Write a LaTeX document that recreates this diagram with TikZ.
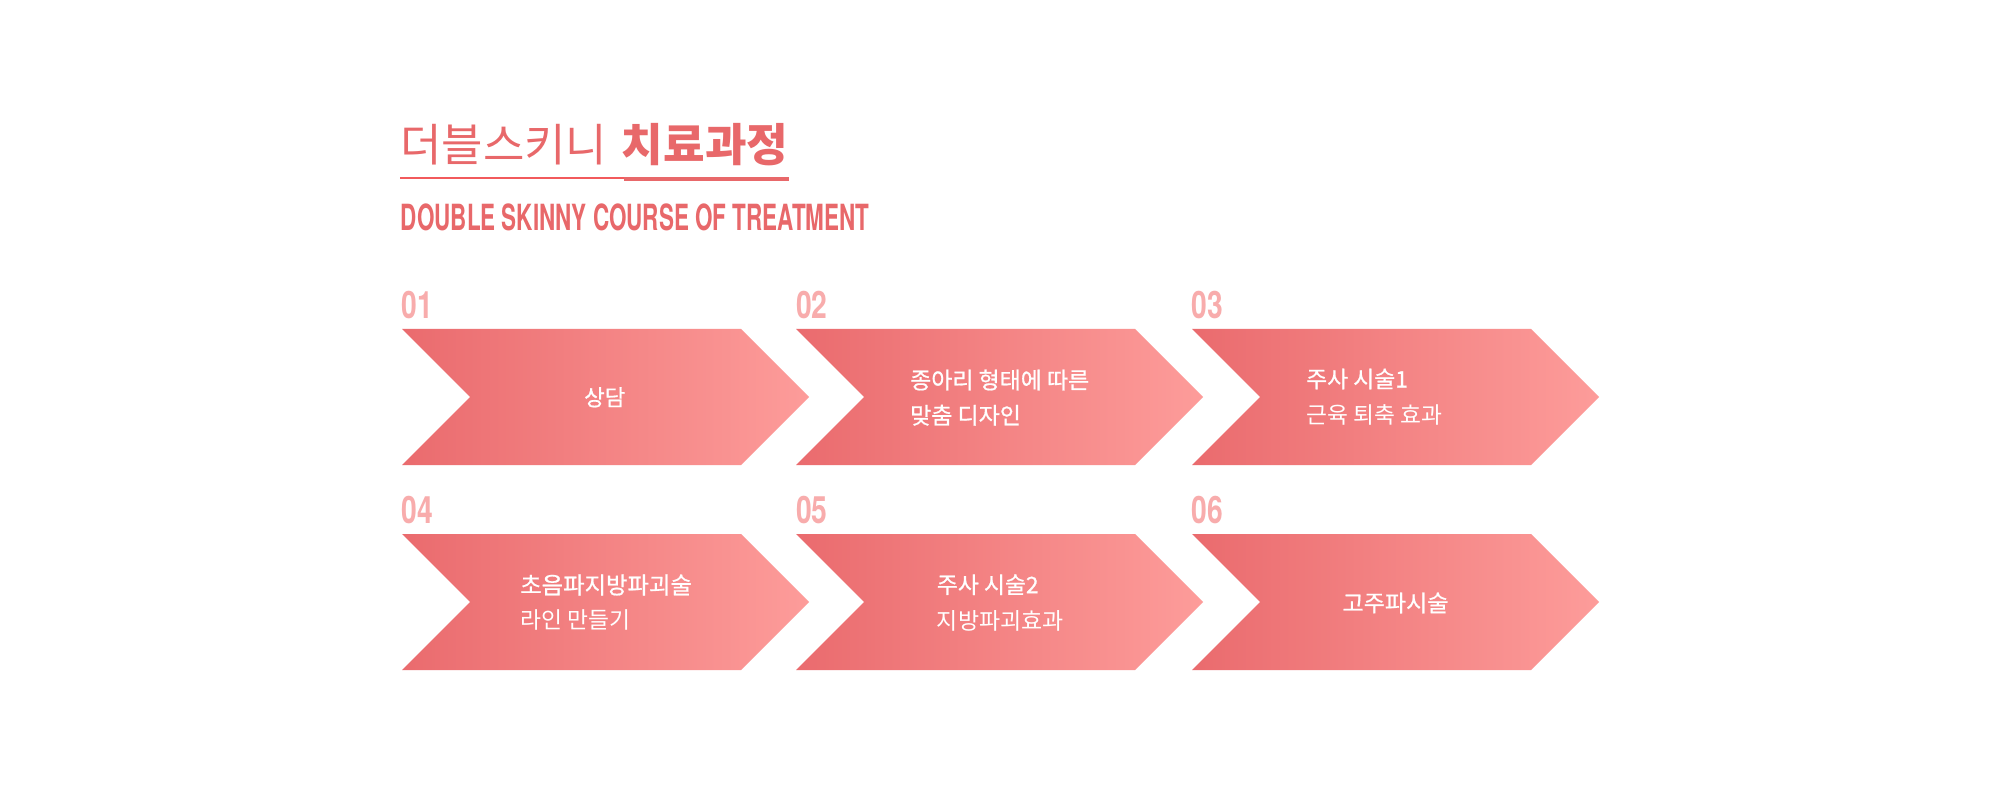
\documentclass[tikz,border=0pt]{standalone}
\usepackage{fontspec}
\setmainfont{TeX Gyre Heros}
\newfontfamily\kr{Noto Sans CJK KR}
\newfontfamily\krm[FakeBold=0.8]{Noto Sans CJK KR}
\definecolor{titlered}{HTML}{E8686A}
\definecolor{ulred}{HTML}{F25A5C}
\definecolor{numpink}{HTML}{F8ACAC}
\definecolor{chevL}{HTML}{EA6B6E}
\definecolor{chevR}{HTML}{FD9C9A}
\begin{document}
\begin{tikzpicture}[x=1pt,y=-1pt,
  chev/.style={left color=chevL,right color=chevR},
  lbl/.style={inner sep=0pt,text=white,anchor=west},
  num/.style={inner sep=0pt,text=numpink,anchor=south west},
  ttl/.style={inner sep=0pt,text=titlered}]
\fill[white] (0,0) rectangle (2000,791);
\useasboundingbox (0,0) rectangle (2000,791);

% title
\node[ttl,anchor=west] (tk1) at (400,145) {\resizebox{207pt}{!}{\kr 더블스키니}};
\node[ttl,anchor=west] (tk2) at (621.7,145) {\resizebox{166.3pt}{!}{\kr\bfseries 치료과정}};
\draw[ulred,line width=2pt] (400,177.7) -- (624,177.7);
\fill[titlered] (624,177) rectangle (789,180.7);
\node[ttl,anchor=south west] (ten) at (400.7,230.7) {\resizebox{468.6pt}{26.7pt}{\bfseries DOUBLE SKINNY COURSE OF TREATMENT}};

% chevrons
\foreach \L/\T in {402/329,796/329,1192/329,402/534,796/534,1192/534}{
  \shade[chev] (\L,\T) -- (\L+339,\T) -- (\L+407,\T+68) -- (\L+339,\T+136)
    -- (\L,\T+136) -- (\L+68,\T+68) -- cycle;
}

% step numbers
\node[num] (n1) at (401.7,319) {\resizebox{!}{27.3pt}{\scalebox{0.75}[1]{\bfseries 01}}};
\node[num] (n2) at (796,319) {\resizebox{!}{27.3pt}{\scalebox{0.75}[1]{\bfseries 02}}};
\node[num] (n3) at (1191.7,319) {\resizebox{!}{27.3pt}{\scalebox{0.75}[1]{\bfseries 03}}};
\node[num] (n4) at (401.7,524) {\resizebox{!}{27.3pt}{\scalebox{0.75}[1]{\bfseries 04}}};
\node[num] (n5) at (796,524) {\resizebox{!}{27.3pt}{\scalebox{0.75}[1]{\bfseries 05}}};
\node[num] (n6) at (1191.7,524) {\resizebox{!}{27.3pt}{\scalebox{0.75}[1]{\bfseries 06}}};

% labels
\node[lbl] (s1) at (584,397.3) {\resizebox{41pt}{!}{\krm 상담}};
\node[lbl] (s2a) at (910,380) {\resizebox{179pt}{!}{\krm 종아리 형태에 따른}};
\node[lbl] (s2b) at (910,415.3) {\resizebox{110.7pt}{!}{\krm 맞춤 디자인}};
\node[lbl] (s3a) at (1306,379) {\resizebox{101.7pt}{!}{\krm 주사 시술1}};
\node[lbl] (s3b) at (1306,415) {\resizebox{135.7pt}{!}{\kr 근육 퇴축 효과}};
\node[lbl] (s4a) at (520,585) {\resizebox{171.7pt}{!}{\krm 초음파지방파괴술}};
\node[lbl] (s4b) at (520,620.3) {\resizebox{110pt}{!}{\kr 라인 만들기}};
\node[lbl] (s5a) at (936.7,584.7) {\resizebox{101.7pt}{!}{\krm 주사 시술2}};
\node[lbl] (s5b) at (936.7,620.5) {\resizebox{126.7pt}{!}{\kr 지방파괴효과}};
\node[lbl] (s6) at (1342.3,603) {\resizebox{106pt}{!}{\krm 고주파시술}};
\end{tikzpicture}
\end{document}
